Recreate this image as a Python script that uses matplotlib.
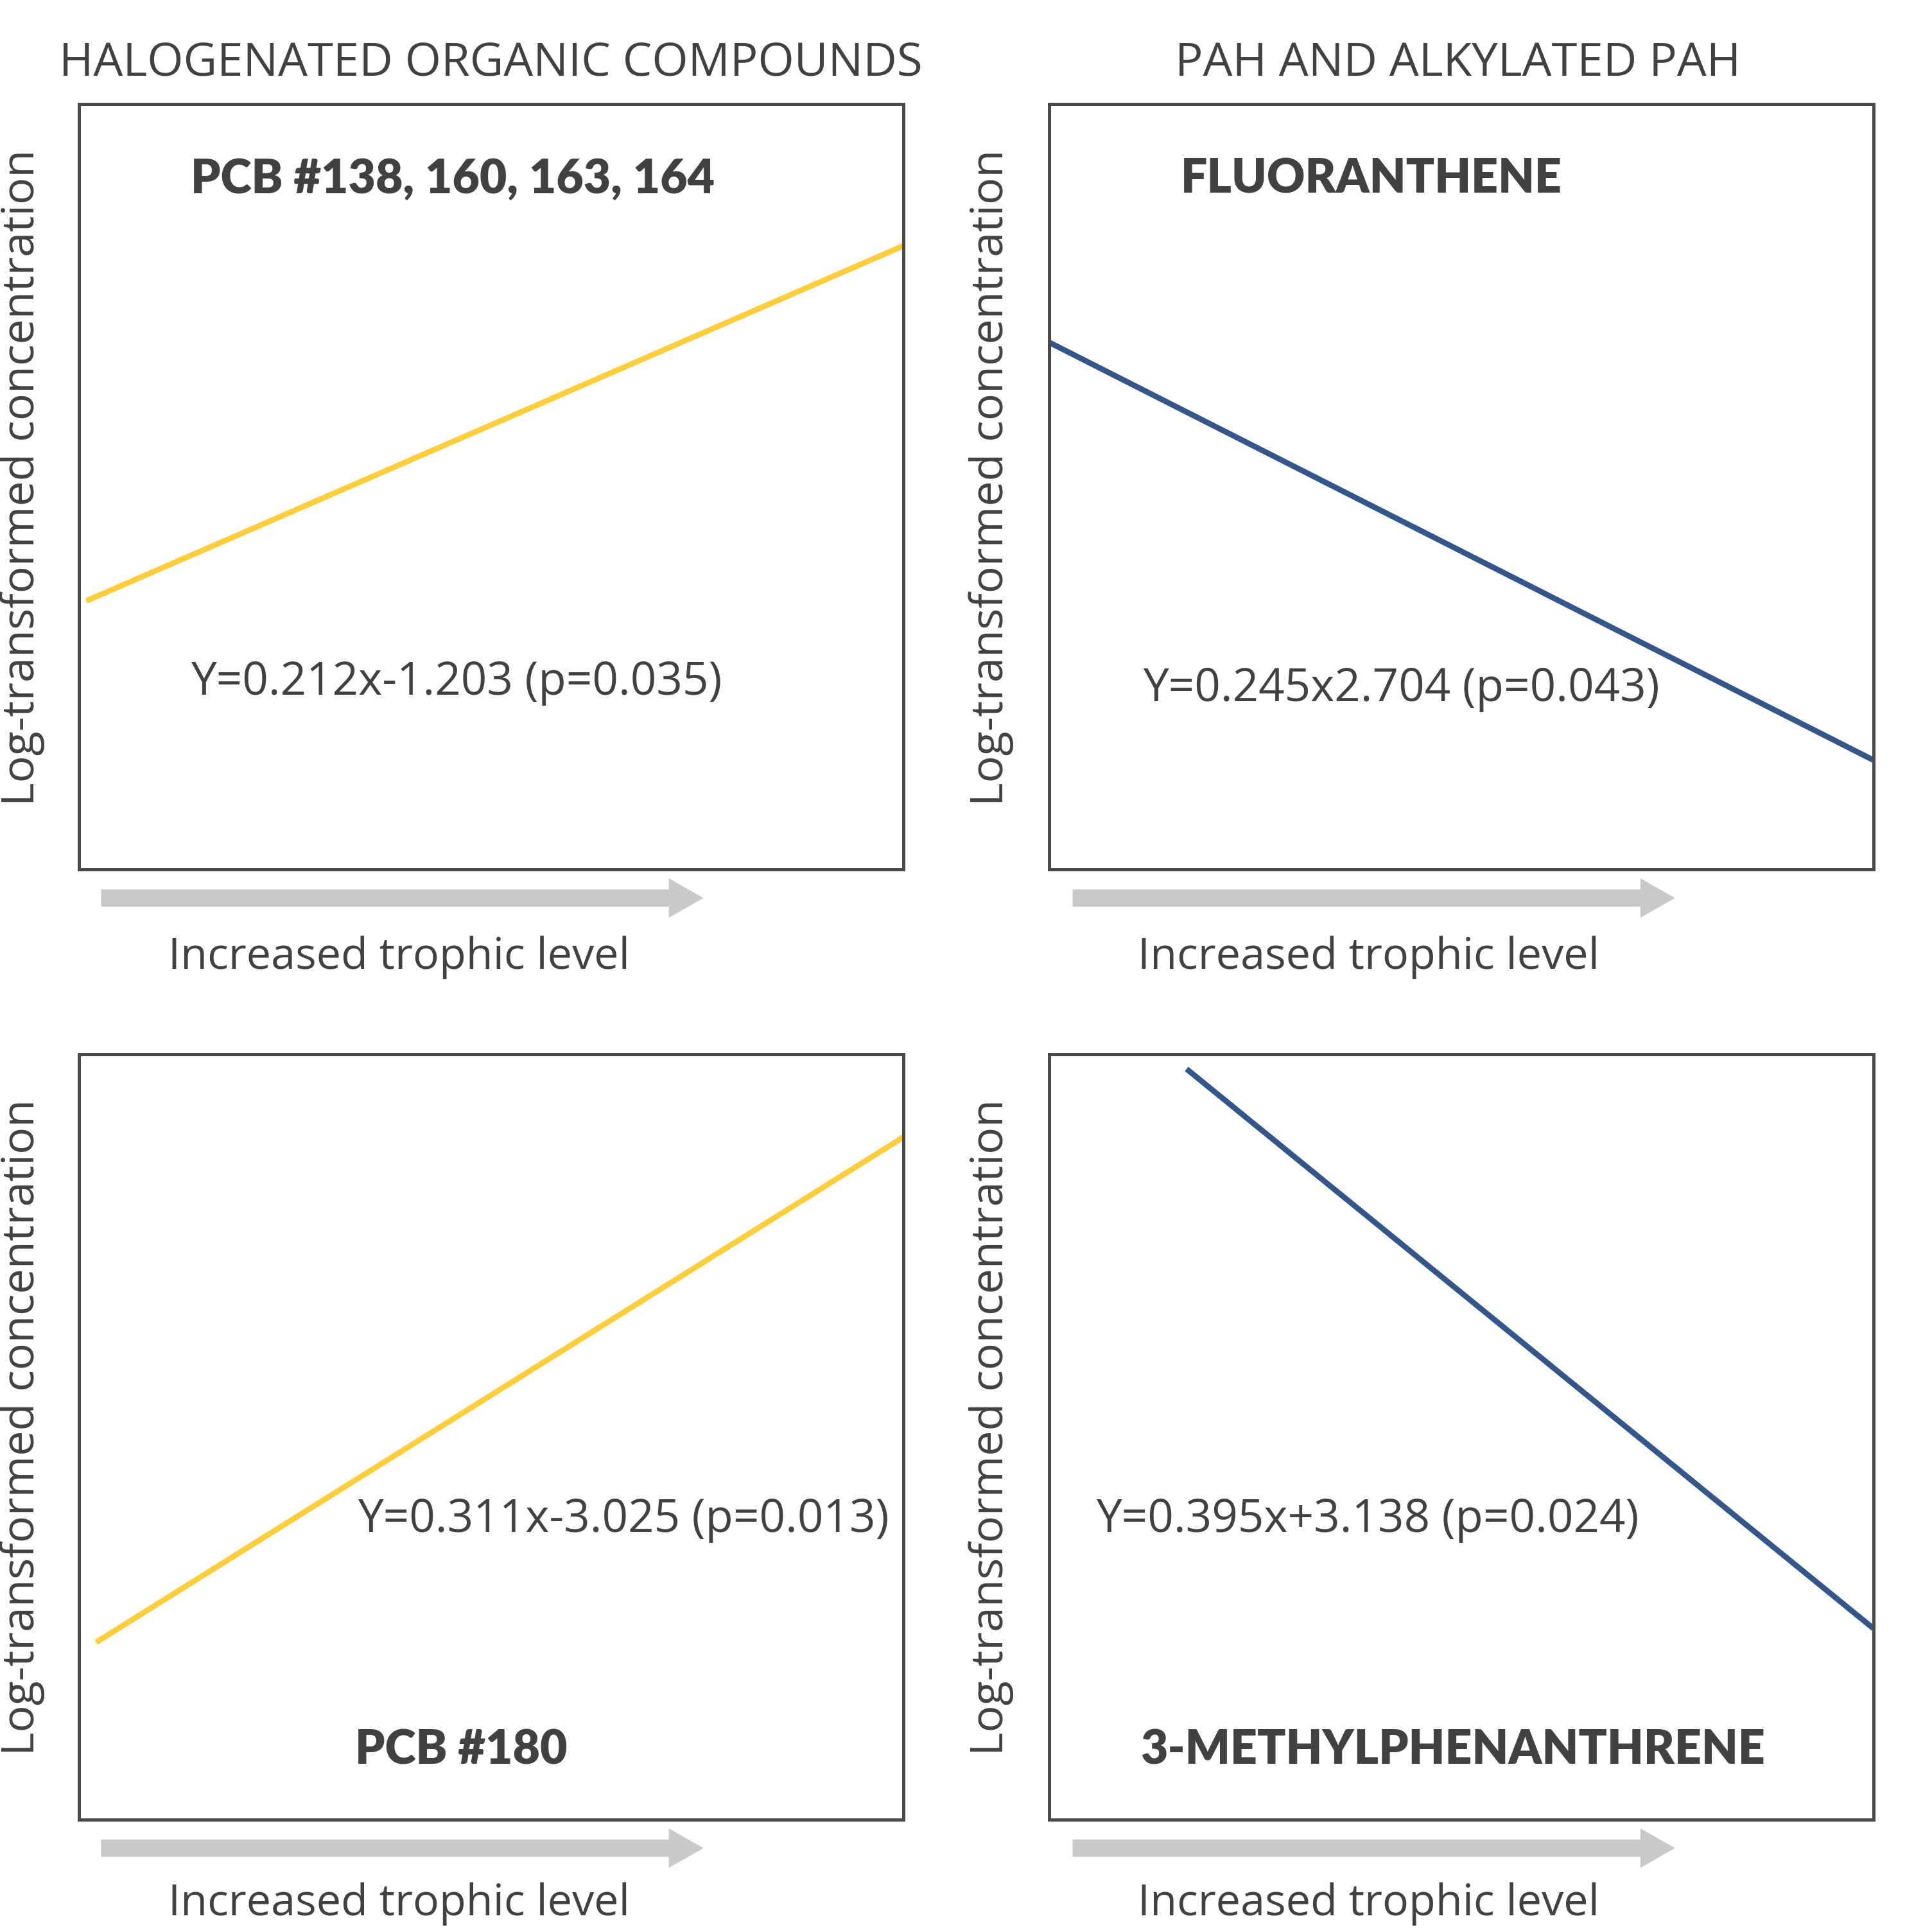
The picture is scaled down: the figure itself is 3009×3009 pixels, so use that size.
import matplotlib.pyplot as plt
from matplotlib.patches import FancyArrow

TEXT = '#414143'
YELLOW = '#FDCD3C'
BLUE = '#35568A'
ARROW = '#C8C9CA'

plt.rcParams['font.family'] = ['Open Sans', 'DejaVu Sans']

col_titles = ['HALOGENATED ORGANIC COMPOUNDS', 'PAH AND ALKYLATED PAH']

# trend line end points in axes units (0..1)
tl_x = [0.009, 1.0]
tl_y = [0.351, 0.815]
tr_x = [0.0, 1.0]
tr_y = [0.689, 0.143]
bl_x = [0.021, 1.0]
bl_y = [0.232, 0.892]
br_x = [0.167, 1.0]
br_y = [0.981, 0.250]

names = ['PCB #138, 160, 163, 164', 'FLUORANTHENE', 'PCB #180', '3-METHYLPHENANTHRENE']
equations = ['Y=0.212x-1.203 (p=0.035)', 'Y=0.245x2.704 (p=0.043)',
             'Y=0.311x-3.025 (p=0.013)', 'Y=0.395x+3.138 (p=0.024)']

panels = [
    {'rect': [0.0408, 0.5497, 0.4267, 0.3961], 'x': tl_x, 'y': tl_y, 'color': YELLOW,
     'name_pos': (0.136, 0.902), 'eq_pos': (0.136, 0.245)},
    {'rect': [0.5427, 0.5497, 0.4267, 0.3961], 'x': tr_x, 'y': tr_y, 'color': BLUE,
     'name_pos': (0.160, 0.902), 'eq_pos': (0.114, 0.237)},
    {'rect': [0.0408, 0.0580, 0.4267, 0.3961], 'x': bl_x, 'y': bl_y, 'color': YELLOW,
     'name_pos': (0.335, 0.091), 'eq_pos': (0.338, 0.393)},
    {'rect': [0.5427, 0.0580, 0.4267, 0.3961], 'x': br_x, 'y': br_y, 'color': BLUE,
     'name_pos': (0.111, 0.091), 'eq_pos': (0.057, 0.393)},
]

fig = plt.figure(figsize=(10.0333, 10.0333), dpi=300)

for i, p in enumerate(panels):
    ax = fig.add_axes(p['rect'])
    ax.plot(p['x'], p['y'], color=p['color'], lw=2.1, solid_capstyle='butt')
    ax.set_xlim(0, 1)
    ax.set_ylim(0, 1)
    ax.set_xticks([])
    ax.set_yticks([])
    for s in ax.spines.values():
        s.set_color('#4A4A4A')
        s.set_linewidth(1.2)
    ax.text(*p['name_pos'], names[i], transform=ax.transAxes, ha='left', va='center',
            fontsize=17.6, fontweight='heavy', color=TEXT, family=['Lato', 'DejaVu Sans'])
    ax.text(*p['eq_pos'], equations[i], transform=ax.transAxes, ha='left', va='center',
            fontsize=17, color=TEXT)

# column titles
fig.text(0.254, 0.967, col_titles[0], ha='center', va='center', fontsize=17.4,
         color=TEXT)
fig.text(0.7545, 0.967, col_titles[1], ha='center', va='center', fontsize=17.4,
         color=TEXT)

# y labels
for x in [0.0115, 0.513]:
    for y in [0.753, 0.2615]:
        fig.text(x, y, 'Log-transformed concentration', rotation=90, ha='center', va='center',
                 fontsize=16.8, color=TEXT)

# trophic arrows and labels
for x0, xc in [(0.0523, 0.2066), (0.555, 0.708)]:
    for ya, yt in [(0.535, 0.5045), (0.0434, 0.0147)]:
        fig.patches.append(FancyArrow(x0, ya, 0.3117 - 0.0179, 0, width=0.0089,
                                      head_width=0.0204, head_length=0.0179,
                                      length_includes_head=False, color=ARROW,
                                      lw=0, transform=fig.transFigure))
        fig.text(xc, yt, 'Increased trophic level', ha='center', va='center',
                 fontsize=16.4, color=TEXT)

plt.savefig('out.png', dpi=300, facecolor='white')
